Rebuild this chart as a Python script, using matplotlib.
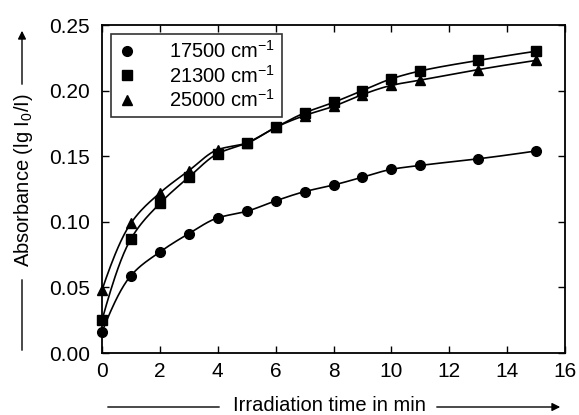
import numpy as np
import matplotlib
matplotlib.use("Agg")
import matplotlib.pyplot as plt

plt.rcParams['font.family'] = ['Liberation Sans', 'DejaVu Sans']
plt.rcParams['mathtext.fontset'] = 'custom'
plt.rcParams['mathtext.rm'] = 'Liberation Sans'

# irradiation time (min)
time_min = [0, 1, 2, 3, 4, 5, 6, 7, 8, 9, 10, 11, 13, 15]

# absorbance at three wavenumbers
abs_17500 = [0.016, 0.059, 0.077, 0.091, 0.103, 0.108, 0.116, 0.123, 0.128, 0.134, 0.140, 0.143, 0.148, 0.154]
abs_21300 = [0.025, 0.087, 0.114, 0.134, 0.152, 0.160, 0.172, 0.183, 0.191, 0.200, 0.209, 0.215, 0.223, 0.230]
abs_25000 = [0.048, 0.099, 0.122, 0.139, 0.155, 0.160, 0.172, 0.181, 0.188, 0.197, 0.204, 0.208, 0.216, 0.223]

labels = ['17500 cm$^{-1}$', '21300 cm$^{-1}$', '25000 cm$^{-1}$']
markers = ['o', 's', '^']


def smooth_line(x, y, n=300):
    # monotone cubic (pchip) curve through the measured points, for drawing only
    x = np.asarray(x, float)
    y = np.asarray(y, float)
    h = np.diff(x)
    d = np.diff(y) / h
    m = np.zeros_like(y)
    for k in range(1, len(x) - 1):
        if d[k - 1] * d[k] > 0:
            w1 = 2 * h[k] + h[k - 1]
            w2 = h[k] + 2 * h[k - 1]
            m[k] = (w1 + w2) / (w1 / d[k - 1] + w2 / d[k])
    m[0] = ((2 * h[0] + h[1]) * d[0] - h[0] * d[1]) / (h[0] + h[1])
    if np.sign(m[0]) != np.sign(d[0]):
        m[0] = 0
    m[-1] = ((2 * h[-1] + h[-2]) * d[-1] - h[-1] * d[-2]) / (h[-1] + h[-2])
    if np.sign(m[-1]) != np.sign(d[-1]):
        m[-1] = 0
    xs = np.linspace(x[0], x[-1], n)
    idx = np.clip(np.searchsorted(x, xs) - 1, 0, len(x) - 2)
    t = (xs - x[idx]) / h[idx]
    h00 = 2 * t**3 - 3 * t**2 + 1
    h10 = t**3 - 2 * t**2 + t
    h01 = -2 * t**3 + 3 * t**2
    h11 = t**3 - t**2
    ys = h00 * y[idx] + h10 * h[idx] * m[idx] + h01 * y[idx + 1] + h11 * h[idx] * m[idx + 1]
    return xs, ys


fig = plt.figure(figsize=(5.79, 4.15), dpi=100)
ax = fig.add_axes([102 / 579, 1 - 353 / 415, 463 / 579, 328 / 415])

for ys, lab, mk in zip([abs_17500, abs_21300, abs_25000], labels, markers):
    sx, sy = smooth_line(time_min, ys)
    ax.plot(sx, sy, color='black', lw=1.2)
    ax.plot(time_min, ys, mk, color='black', ms=7 if mk != 's' else 6.5,
            label=lab, clip_on=False, zorder=3)

ax.set_xlim(0, 16)
ax.set_ylim(0, 0.25)
ax.set_xticks(np.arange(0, 17, 2))
ax.set_yticks(np.arange(0, 0.26, 0.05))
ax.yaxis.set_major_formatter(matplotlib.ticker.FormatStrFormatter('%.2f'))
ax.tick_params(direction='in', length=5, width=1, top=True, right=True,
               labelsize=15)
ax.tick_params(axis='x', pad=6.5)
ax.tick_params(axis='y', pad=8.5)
for sp in ax.spines.values():
    sp.set_linewidth(1.3)

leg = ax.legend(loc='upper left', fontsize=14.5, frameon=True, fancybox=False,
                edgecolor='black', handlelength=1.0, handletextpad=1.6,
                borderpad=0.3, labelspacing=0.12, borderaxespad=0.45)
leg.get_frame().set_linewidth(1.2)

# axis labels with arrow lines, in figure pixels
fig.text(329, 4, 'Irradiation time in min', transform=None, fontsize=14.5,
         ha='center', va='baseline')
ax.annotate('', xy=(105, 8), xytext=(222, 8), xycoords='figure pixels',
            arrowprops=dict(arrowstyle='-', color='black', lw=1))
ax.annotate('', xy=(563, 8), xytext=(434, 8), xycoords='figure pixels',
            arrowprops=dict(arrowstyle='-|>', color='black', lw=1, mutation_scale=12))

fig.text(24, 415 - 180, 'Absorbance (lg I$_0$/I)', transform=None, fontsize=14.5,
         rotation=90, ha='center', va='center')
ax.annotate('', xy=(22, 415 - 353), xytext=(22, 415 - 277), xycoords='figure pixels',
            arrowprops=dict(arrowstyle='-', color='black', lw=1))
ax.annotate('', xy=(22, 415 - 28), xytext=(22, 415 - 87), xycoords='figure pixels',
            arrowprops=dict(arrowstyle='-|>', color='black', lw=1, mutation_scale=12))

fig.savefig('out.png', dpi=100)
